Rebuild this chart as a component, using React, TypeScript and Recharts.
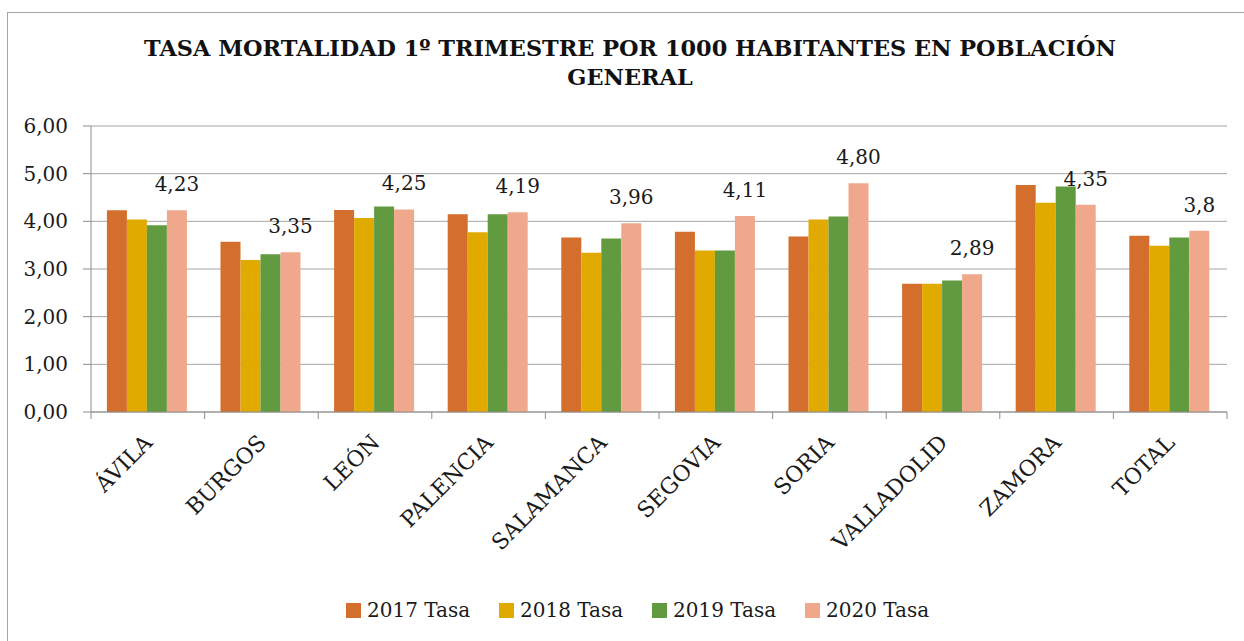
import React from 'react';
import { BarChart, Bar, XAxis, YAxis, CartesianGrid, Legend, LabelList } from 'recharts';

// Values (rate per 1000 inhabitants, Q1)
const provincias = ['ÁVILA', 'BURGOS', 'LEÓN', 'PALENCIA', 'SALAMANCA', 'SEGOVIA', 'SORIA', 'VALLADOLID', 'ZAMORA', 'TOTAL'];
const tasa2017 = [4.23, 3.57, 4.24, 4.15, 3.66, 3.78, 3.68, 2.69, 4.76, 3.7];
const tasa2018 = [4.04, 3.19, 4.07, 3.77, 3.34, 3.39, 4.04, 2.69, 4.39, 3.49];
const tasa2019 = [3.92, 3.31, 4.31, 4.15, 3.64, 3.39, 4.1, 2.76, 4.73, 3.66];
const tasa2020 = [4.23, 3.35, 4.25, 4.19, 3.96, 4.11, 4.8, 2.89, 4.35, 3.8];
const etiquetas2020 = ['4,23', '3,35', '4,25', '4,19', '3,96', '4,11', '4,80', '2,89', '4,35', '3,8'];
const yTicks = [0, 1, 2, 3, 4, 5, 6];

const FONT = '"DejaVu Serif", "Liberation Serif", serif';
const AXIS_GRAY = '#8C8C8C';
const GRID_GRAY = '#A6A6A6';

const series = [
  { key: 't2017', name: '2017 Tasa', color: '#D36E2D' },
  { key: 't2018', name: '2018 Tasa', color: '#E0AA00' },
  { key: 't2019', name: '2019 Tasa', color: '#629A40' },
  { key: 't2020', name: '2020 Tasa', color: '#F0A88C' },
];

const table = provincias.map((p, i) => ({
  name: p,
  t2017: tasa2017[i],
  t2018: tasa2018[i],
  t2019: tasa2019[i],
  t2020: tasa2020[i],
  lbl: etiquetas2020[i],
}));

// category label rotated 45°, plus Excel-style tick marks between categories
function CategoryTick(props: any) {
  const { x, y, payload, index, visibleTicksCount } = props;
  const half = payload && typeof payload.offset === 'number' && payload.offset > 0 ? payload.offset : 56.8;
  const ax = x + 6;
  const ay = y + 32;
  return (
    <g>
      <line x1={x - half} y1={y} x2={x - half} y2={y + 7} stroke={AXIS_GRAY} />
      {index === visibleTicksCount - 1 && (
        <line x1={x + half} y1={y} x2={x + half} y2={y + 7} stroke={AXIS_GRAY} />
      )}
      <text
        x={ax}
        y={ay}
        transform={`rotate(-45 ${ax} ${ay})`}
        textAnchor="end"
        fontSize={22}
        fontFamily={FONT}
        fill="#1a1a1a"
      >
        {payload.value}
      </text>
    </g>
  );
}

function LegendBox(props: any) {
  const items = props.payload && props.payload.length ? props.payload : series.map((s) => ({ value: s.name, color: s.color }));
  return (
    <div style={{ display: 'flex', alignItems: 'center', paddingLeft: 338, height: 30, fontFamily: FONT }}>
      {items.map((it: any) => (
        <div key={it.value} style={{ width: 153, display: 'flex', alignItems: 'center' }}>
          <span style={{ display: 'inline-block', width: 15, height: 15, background: it.color, marginRight: 6 }} />
          <span style={{ fontSize: 20, lineHeight: '30px', color: '#1a1a1a' }}>{it.value}</span>
        </div>
      ))}
    </div>
  );
}

export default function App() {
  return (
    <div
      style={{
        position: 'fixed',
        left: 7,
        top: 12,
        width: 1237,
        height: 629,
        borderLeft: `1px solid ${GRID_GRAY}`,
        borderTop: `1px solid ${GRID_GRAY}`,
        background: '#fff',
        overflow: 'hidden',
      }}
    >
      <div style={{ position: 'absolute', left: 0, top: 0 }}>
        <BarChart
          width={1236}
          height={628}
          data={table}
          margin={{ top: 113, right: 17, bottom: 29, left: 0 }}
          barCategoryGap="14%"
          barGap={0}
        >
          <CartesianGrid vertical={false} stroke={GRID_GRAY} />
          <XAxis
            dataKey="name"
            height={200}
            interval={0}
            tickLine={false}
            tickSize={0}
            tickMargin={0}
            axisLine={{ stroke: AXIS_GRAY }}
            tick={<CategoryTick />}
          />
          <YAxis
            width={83}
            domain={[0, 6]}
            ticks={yTicks}
            tickSize={8}
            tickMargin={15}
            tickLine={{ stroke: AXIS_GRAY }}
            axisLine={{ stroke: AXIS_GRAY }}
            tick={{ fontSize: 20, fontFamily: FONT, fill: '#1a1a1a' }}
            tickFormatter={(v: number) => v.toFixed(2).replace('.', ',')}
          />
          <Legend
            verticalAlign="middle"
            align="center"
            layout="horizontal"
            wrapperStyle={{ top: 582, left: 0, width: 1236 }}
            content={<LegendBox />}
          />
          {series.map((s) => (
            <Bar key={s.key} dataKey={s.key} name={s.name} fill={s.color} isAnimationActive={false}>
              {s.key === 't2020' && (
                <LabelList
                  dataKey="lbl"
                  position="top"
                  offset={19}
                  fontSize={20}
                  fontFamily={FONT}
                  fill="#1a1a1a"
                />
              )}
            </Bar>
          ))}
        </BarChart>
      </div>
      <div
        style={{
          position: 'absolute',
          left: 0,
          top: 21,
          width: 1244,
          textAlign: 'center',
          fontFamily: FONT,
          fontWeight: 'bold',
          fontSize: 22.4,
          lineHeight: '29px',
          color: '#111',
        }}
      >
        TASA MORTALIDAD 1º TRIMESTRE POR 1000 HABITANTES EN POBLACIÓN
        <br />
        GENERAL
      </div>
    </div>
  );
}
